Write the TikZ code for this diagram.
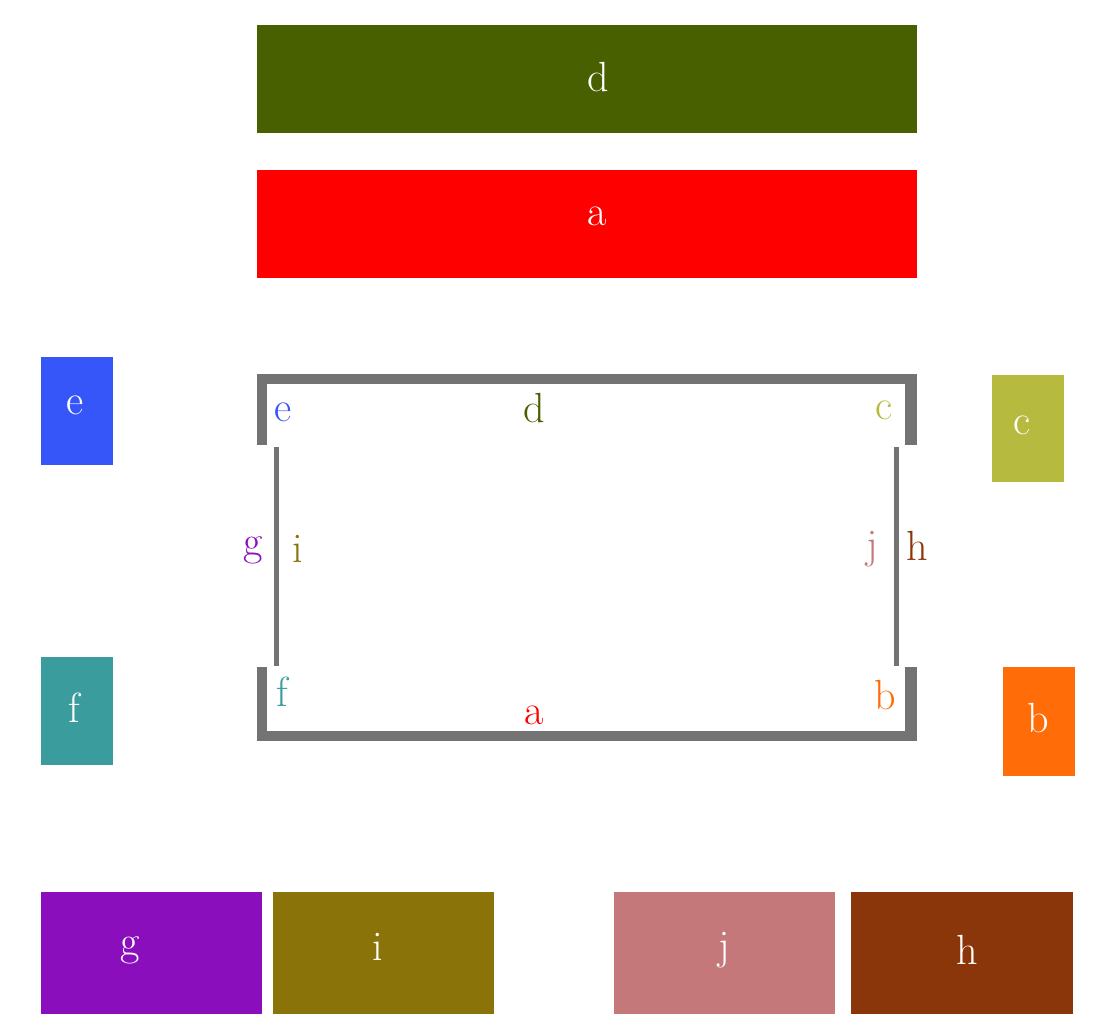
\documentclass[tikz,border=0pt]{standalone}
\definecolor{cola}{RGB}{255,0,0}
\definecolor{colb}{RGB}{255,108,8}
\definecolor{colc}{RGB}{182,186,62}
\definecolor{cold}{RGB}{72,96,0}
\definecolor{cole}{RGB}{54,86,250}
\definecolor{colf}{RGB}{58,156,156}
\definecolor{colg}{RGB}{138,14,188}
\definecolor{colh}{RGB}{138,54,10}
\definecolor{coli}{RGB}{138,116,10}
\definecolor{colj}{RGB}{196,120,122}
\definecolor{framegray}{RGB}{115,115,115}

\tikzstyle{frame}=[fill=framegray]
\tikzstyle{boxlabel}=[text=white, inner sep=0pt, font=\fontsize{24}{28}\selectfont]
\tikzstyle{sidelabel}=[inner sep=0pt, font=\fontsize{24}{28}\selectfont]

\begin{document}
\begin{tikzpicture}[x=0.02cm, y=-0.02cm]
	\useasboundingbox (0,0) rectangle (1095,1032);

	% Wide blocks on top
	\fill[cold] (257, 25) rectangle (917,133);
	\fill[cola] (257,170) rectangle (917,278);

	% Blocks at the sides
	\fill[cole] ( 41,357) rectangle ( 113,465);
	\fill[colf] ( 41,657) rectangle ( 113,765);
	\fill[colc] (992,375) rectangle (1064,482);
	\fill[colb] (1003,667) rectangle (1075,776);

	% Blocks at the bottom
	\fill[colg] ( 41,892) rectangle ( 262,1014);
	\fill[coli] (273,892) rectangle ( 494,1014);
	\fill[colj] (614,892) rectangle ( 835,1014);
	\fill[colh] (851,892) rectangle (1073,1014);

	% The frame
	\fill[frame] (257,374) rectangle (917,384);
	\fill[frame] (257,731) rectangle (917,741);
	\fill[frame] (257,374) rectangle (267,445);
	\fill[frame] (905,374) rectangle (917,445);
	\fill[frame] (257,667) rectangle (267,741);
	\fill[frame] (905,667) rectangle (917,741);
	\fill[frame] (274,447) rectangle (279,666);
	\fill[frame] (894,447) rectangle (899,666);

	\node[boxlabel] (blockd) at ( 598, 77) {d};
	\node[boxlabel] (blocka) at ( 597,216) {a};
	\node[boxlabel] (blocke) at (  75,405) {e};
	\node[boxlabel] (blockc) at (1022,425) {c};
	\node[boxlabel] (blockf) at (  74,708) {f};
	\node[boxlabel] (blockb) at (1038,718) {b};
	\node[boxlabel] (blockg) at ( 130,950) {g};
	\node[boxlabel] (blocki) at ( 378,947) {i};
	\node[boxlabel] (blockj) at ( 724,950) {j};
	\node[boxlabel] (blockh) at ( 967,950) {h};

	\node[sidelabel, text=cole] (sidee) at (283,412) {e};
	\node[sidelabel, text=cold] (sided) at (534,408) {d};
	\node[sidelabel, text=colc] (sidec) at (884,410) {c};
	\node[sidelabel, text=colg] (sideg) at (253,550) {g};
	\node[sidelabel, text=coli] (sidei) at (298,549) {i};
	\node[sidelabel, text=colj] (sidej) at (872,549) {j};
	\node[sidelabel, text=colh] (sideh) at (917,546) {h};
	\node[sidelabel, text=colf] (sidef) at (282,692) {f};
	\node[sidelabel, text=cola] (sidea) at (534,715) {a};
	\node[sidelabel, text=colb] (sideb) at (885,695) {b};
\end{tikzpicture}
\end{document}
